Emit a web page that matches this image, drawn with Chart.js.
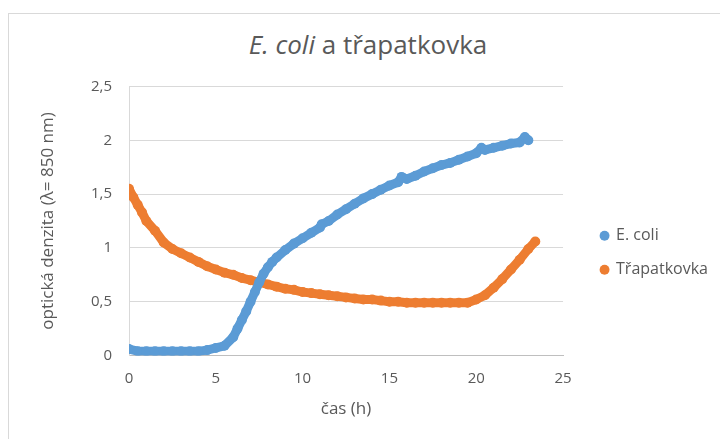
<!DOCTYPE html>
<html>
<head>
<meta charset="utf-8">
<script src="https://cdn.jsdelivr.net/npm/chart.js@4.4.0/dist/chart.umd.min.js"></script>
<style>
  html, body { margin: 0; padding: 0; background: #fff; }
  #wrap { position: relative; width: 720px; height: 439px; overflow: hidden; }
  #frame { position: absolute; left: 8px; top: 13px; width: 760px; height: 480px; border: 1px solid #d9d9d9; }
  #title { position: absolute; left: 0; width: 736px; top: 26px; text-align: center;
           font-family: "Open Sans", sans-serif; font-size: 26px; color: #595959; }
  canvas { position: absolute; left: 0; top: 0; }
</style>
</head>
<body>
<div id="wrap">
  <div id="frame"></div>
  <div id="title"><i>E. coli</i> a třapatkovka</div>
  <canvas id="chart" width="720" height="439"></canvas>
</div>
<script>
// time (h) and optical density
const ecoliTime = [0, 0.5, 1, 1.5, 2, 2.5, 3, 3.5, 4, 4.5, 5, 5.5, 6, 6.25, 6.5, 6.75, 7, 7.25, 7.5, 7.75, 8, 8.25,
  8.5, 9, 9.5, 10, 10.5, 11, 11.1, 11.5, 12, 12.5, 13, 13.5, 14, 14.5, 15, 15.5, 15.7, 16, 16.5, 17, 17.5, 18,
  18.5, 19, 19.5, 20, 20.3, 20.5, 21, 21.5, 22, 22.5, 22.8, 23];
const ecoliOD = [0.06, 0.04, 0.04, 0.04, 0.04, 0.04, 0.04, 0.04, 0.04, 0.05, 0.07, 0.09, 0.17, 0.25, 0.33, 0.41, 0.50, 0.59, 0.68, 0.76, 0.82, 0.87,
  0.91, 0.98, 1.04, 1.09, 1.14, 1.19, 1.22, 1.25, 1.31, 1.36, 1.41, 1.46, 1.50, 1.54, 1.58, 1.61, 1.66, 1.64, 1.67, 1.71, 1.74, 1.77,
  1.79, 1.82, 1.85, 1.88, 1.93, 1.91, 1.93, 1.95, 1.97, 1.98, 2.03, 2.00];

const trapTime = [0, 0.25, 0.5, 0.75, 1, 1.5, 2, 2.5, 3, 3.5, 4, 4.5, 5, 5.5, 6, 6.5, 7, 7.5, 8, 8.5, 9, 9.5, 10,
  10.5, 11, 11.5, 12, 12.5, 13, 13.5, 14, 14.5, 15, 15.5, 16, 16.5, 17, 17.5, 18, 18.5, 19, 19.5, 20, 20.5, 21,
  21.5, 22, 22.5, 23, 23.4];
const trapOD = [1.55, 1.47, 1.40, 1.33, 1.25, 1.16, 1.05, 0.99, 0.95, 0.91, 0.87, 0.83, 0.80, 0.77, 0.75, 0.72, 0.70, 0.68, 0.66, 0.64, 0.62, 0.61, 0.59,
  0.58, 0.57, 0.56, 0.55, 0.54, 0.53, 0.52, 0.52, 0.51, 0.50, 0.50, 0.49, 0.49, 0.49, 0.49, 0.49, 0.49, 0.49, 0.49, 0.52, 0.56, 0.63,
  0.71, 0.80, 0.89, 0.99, 1.06];

const seriesNames = ["E. coli", "Třapatkovka"];
const yTickLabels = ["0", "0,5", "1", "1,5", "2", "2,5"];
const xTickLabels = ["0", "5", "10", "15", "20", "25"];

const blue = "#5b9bd5";
const orange = "#ed7d31";
const textGray = "#595959";

function toPoints(xs, ys) {
  return xs.map((x, i) => ({ x: x, y: ys[i] }));
}

function makeSet(label, pts, color) {
  return {
    label: label,
    data: pts,
    showLine: true,
    borderColor: color,
    backgroundColor: color,
    borderWidth: 9,
    borderCapStyle: "round",
    borderJoinStyle: "round",
    pointRadius: 5,
    pointHoverRadius: 5,
    pointBorderWidth: 0,
    tension: 0,
  };
}

// nudge the legend entries right inside their box
const legendShift = {
  id: "legendShift",
  afterInit(chart) {
    const lg = chart.legend;
    const draw = lg.draw;
    lg.draw = function (...args) {
      this.ctx.save();
      this.ctx.translate(20, 0);
      draw.apply(this, args);
      this.ctx.restore();
    };
  },
};

new Chart(document.getElementById("chart"), {
  type: "scatter",
  data: {
    datasets: [
      makeSet(seriesNames[0], toPoints(ecoliTime, ecoliOD), blue),
      makeSet(seriesNames[1], toPoints(trapTime, trapOD), orange),
    ],
  },
  plugins: [legendShift],
  options: {
    responsive: false,
    animation: false,
    layout: { padding: { top: 86.5, left: 37, bottom: 20, right: 22 } },
    plugins: {
      tooltip: { enabled: false },
      legend: {
        position: "right",
        labels: {
          usePointStyle: true,
          pointStyle: "circle",
          boxWidth: 7,
          boxHeight: 7,
          padding: 18,
          color: textGray,
          font: { family: "Open Sans", size: 16 },
        },
      },
    },
    scales: {
      x: {
        type: "linear",
        min: 0,
        max: 25,
        afterFit: (s) => { s.height = 63.5; },
        ticks: {
          stepSize: 5,
          padding: 14.5,
          color: textGray,
          font: { family: "Open Sans", size: 15 },
          callback: (v, i) => xTickLabels[i],
        },
        grid: { display: false, drawTicks: false },
        border: { color: "#bfbfbf", width: 1 },
        title: {
          display: true,
          text: "čas (h)",
          color: textGray,
          padding: 0,
          font: { family: "Open Sans", size: 17 },
        },
      },
      y: {
        min: 0,
        max: 2.5,
        afterFit: (s) => { s.width = 92; },
        ticks: {
          stepSize: 0.5,
          padding: 17,
          color: textGray,
          font: { family: "Open Sans", size: 15 },
          callback: (v, i) => yTickLabels[i],
        },
        grid: { color: "#d9d9d9", drawTicks: false },
        border: { color: "#d9d9d9", width: 1 },
        title: {
          display: true,
          text: "optická denzita (λ= 850 nm)",
          color: textGray,
          padding: { top: 0.5, bottom: 0 },
          font: { family: "Open Sans", size: 17 },
        },
      },
    },
  },
});
</script>
</body>
</html>
